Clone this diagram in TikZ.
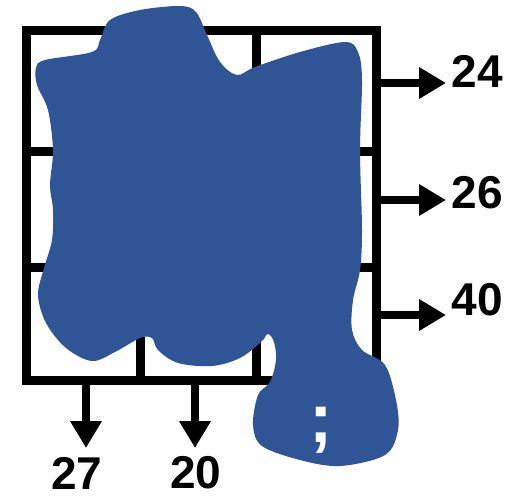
\documentclass[tikz,border=0pt]{standalone}
\usepackage{fontspec}
\setmainfont{Liberation Sans}
\usetikzlibrary{arrows.meta}
\definecolor{blobblue}{RGB}{47,85,151}
\tikzset{
  gridline/.style={line width=9pt, line cap=rect},
  outarrow/.style={line width=8pt, -{Triangle[length=27pt,width=30pt]}},
  numlabel/.style={font=\bfseries\fontsize{46}{46}\selectfont, inner sep=0pt}
}
\begin{document}
\begin{tikzpicture}[x=1pt,y=-1pt]
\useasboundingbox (0,0) rectangle (521,499);
% grid
\coordinate (tl) at (26,30);
\coordinate (br) at (376,380);
\draw[gridline] (tl) rectangle (br);
\draw[gridline] (140,30) -- (140,380);
\draw[gridline] (256,30) -- (256,380);
\draw[gridline] (26,151) -- (376,151);
\draw[gridline] (26,267) -- (376,267);
% blob
\fill[blobblue] plot[smooth cycle, tension=0.55] coordinates {
 (100,40) (110,20) (140,10) (180,6) (196,12) (207,35) (220,62) (237,75)
 (255,67) (300,52) (345,42) (358,52) (362,80) (360,150) (362,230) (360,270)
 (353,300) (352,330) (362,350) (385,365) (396,400) (398,430) (385,455)
 (340,466) (300,460) (262,446) (253,425) (258,395) (270,382) (276,360)
 (274,342) (268,334) (261,342) (240,358) (212,366) (178,363) (158,350)
 (152,338) (140,338) (115,352) (92,361) (66,348) (46,323) (38,295)
 (44,268) (52,240) (53,210) (50,185) (53,150) (48,110) (37,85) (36,68)
 (45,60) (92,52)};
\node[font=\bfseries\fontsize{70}{70}\selectfont, text=white, inner sep=0pt] (semi) at (321,430) {;};
% right arrows
\coordinate (r1) at (376,83);
\coordinate (r2) at (376,200);
\coordinate (r3) at (376,315);
\coordinate (t1) at (446,83);
\coordinate (t2) at (446,200);
\coordinate (t3) at (446,315);
\draw[outarrow] (r1) -- (t1);
\draw[outarrow] (r2) -- (t2);
\draw[outarrow] (r3) -- (t3);
\node[numlabel] (l24) at (477,71) {24};
\node[numlabel] (l26) at (477,193) {26};
\node[numlabel] (l40) at (477,300) {40};
% bottom arrows
\coordinate (b1) at (86,380);
\coordinate (b2) at (195,380);
\coordinate (u1) at (86,448);
\coordinate (u2) at (195,448);
\draw[outarrow] (b1) -- (u1);
\draw[outarrow] (b2) -- (u2);
\node[numlabel] (l27) at (77,473) {27};
\node[numlabel] (l20) at (196,473) {20};
\end{tikzpicture}
\end{document}
